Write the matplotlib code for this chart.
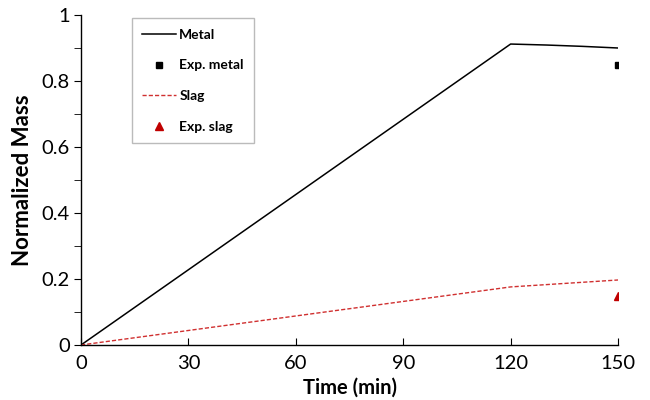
import matplotlib
matplotlib.use("Agg")
import matplotlib.pyplot as plt
from matplotlib.ticker import MultipleLocator

plt.rcParams['font.family'] = ['Lato', 'DejaVu Sans']

time = [0, 10, 20, 30, 40, 50, 60, 70, 80, 90, 100, 110, 120, 130, 140, 150]
metal = [0, 0.076, 0.152, 0.228, 0.304, 0.380, 0.456, 0.532, 0.608, 0.684, 0.760, 0.836, 0.912, 0.909, 0.905, 0.900]
slag = [0, 0.0147, 0.0293, 0.044, 0.0587, 0.0733, 0.088, 0.1027, 0.1173, 0.132, 0.1467, 0.1613, 0.176, 0.183, 0.190, 0.197]
exp_time = [150]
exp_metal = [0.85]
exp_slag = [0.15]

fig = plt.figure(figsize=(6.5, 4.0), dpi=100)
ax = fig.add_axes([0.1246, 0.1375, 0.8262, 0.825])

ax.plot(time, metal, color='black', lw=1.1, label='Metal')
ax.plot(exp_time, exp_metal, 's', color='black', ms=5, label='Exp. metal')
ax.plot(time, slag, '--', color='#d03030', lw=1.0, dashes=(3, 1.5), label='Slag')
ax.plot(exp_time, exp_slag, '^', color='#c00000', ms=6, label='Exp. slag')

ax.set_xlim(0, 150)
ax.set_ylim(0, 1)
ax.xaxis.set_major_locator(MultipleLocator(30))
ax.yaxis.set_minor_locator(MultipleLocator(0.1))
ax.set_yticks([0, 0.2, 0.4, 0.6, 0.8, 1.0])
ax.set_yticklabels(['0', '0.2', '0.4', '0.6', '0.8', '1'])
ax.tick_params(axis='x', direction='in', length=5, labelsize=14.5, pad=7)
ax.tick_params(axis='y', which='major', direction='out', length=5, labelsize=14.5, pad=3)
ax.tick_params(axis='y', which='minor', direction='out', length=5)

for s in ['top', 'right']:
    ax.spines[s].set_visible(False)
for s in ['left', 'bottom']:
    ax.spines[s].set_linewidth(1.0)

ax.set_xlabel('Time (min)', fontsize=14.5, fontweight='bold', labelpad=4)
ax.set_ylabel('Normalized Mass', fontsize=16, fontweight='bold', labelpad=6)

leg = ax.legend(loc='upper left', bbox_to_anchor=(0.095, 0.99), fancybox=False,
                edgecolor='#aaaaaa', prop={'weight': 'bold', 'size': 10},
                labelspacing=1.35, handlelength=2.4, handletextpad=0.25,
                borderpad=0.75, borderaxespad=0)
leg.get_frame().set_linewidth(1.0)

fig.savefig('out.png', dpi=100)
